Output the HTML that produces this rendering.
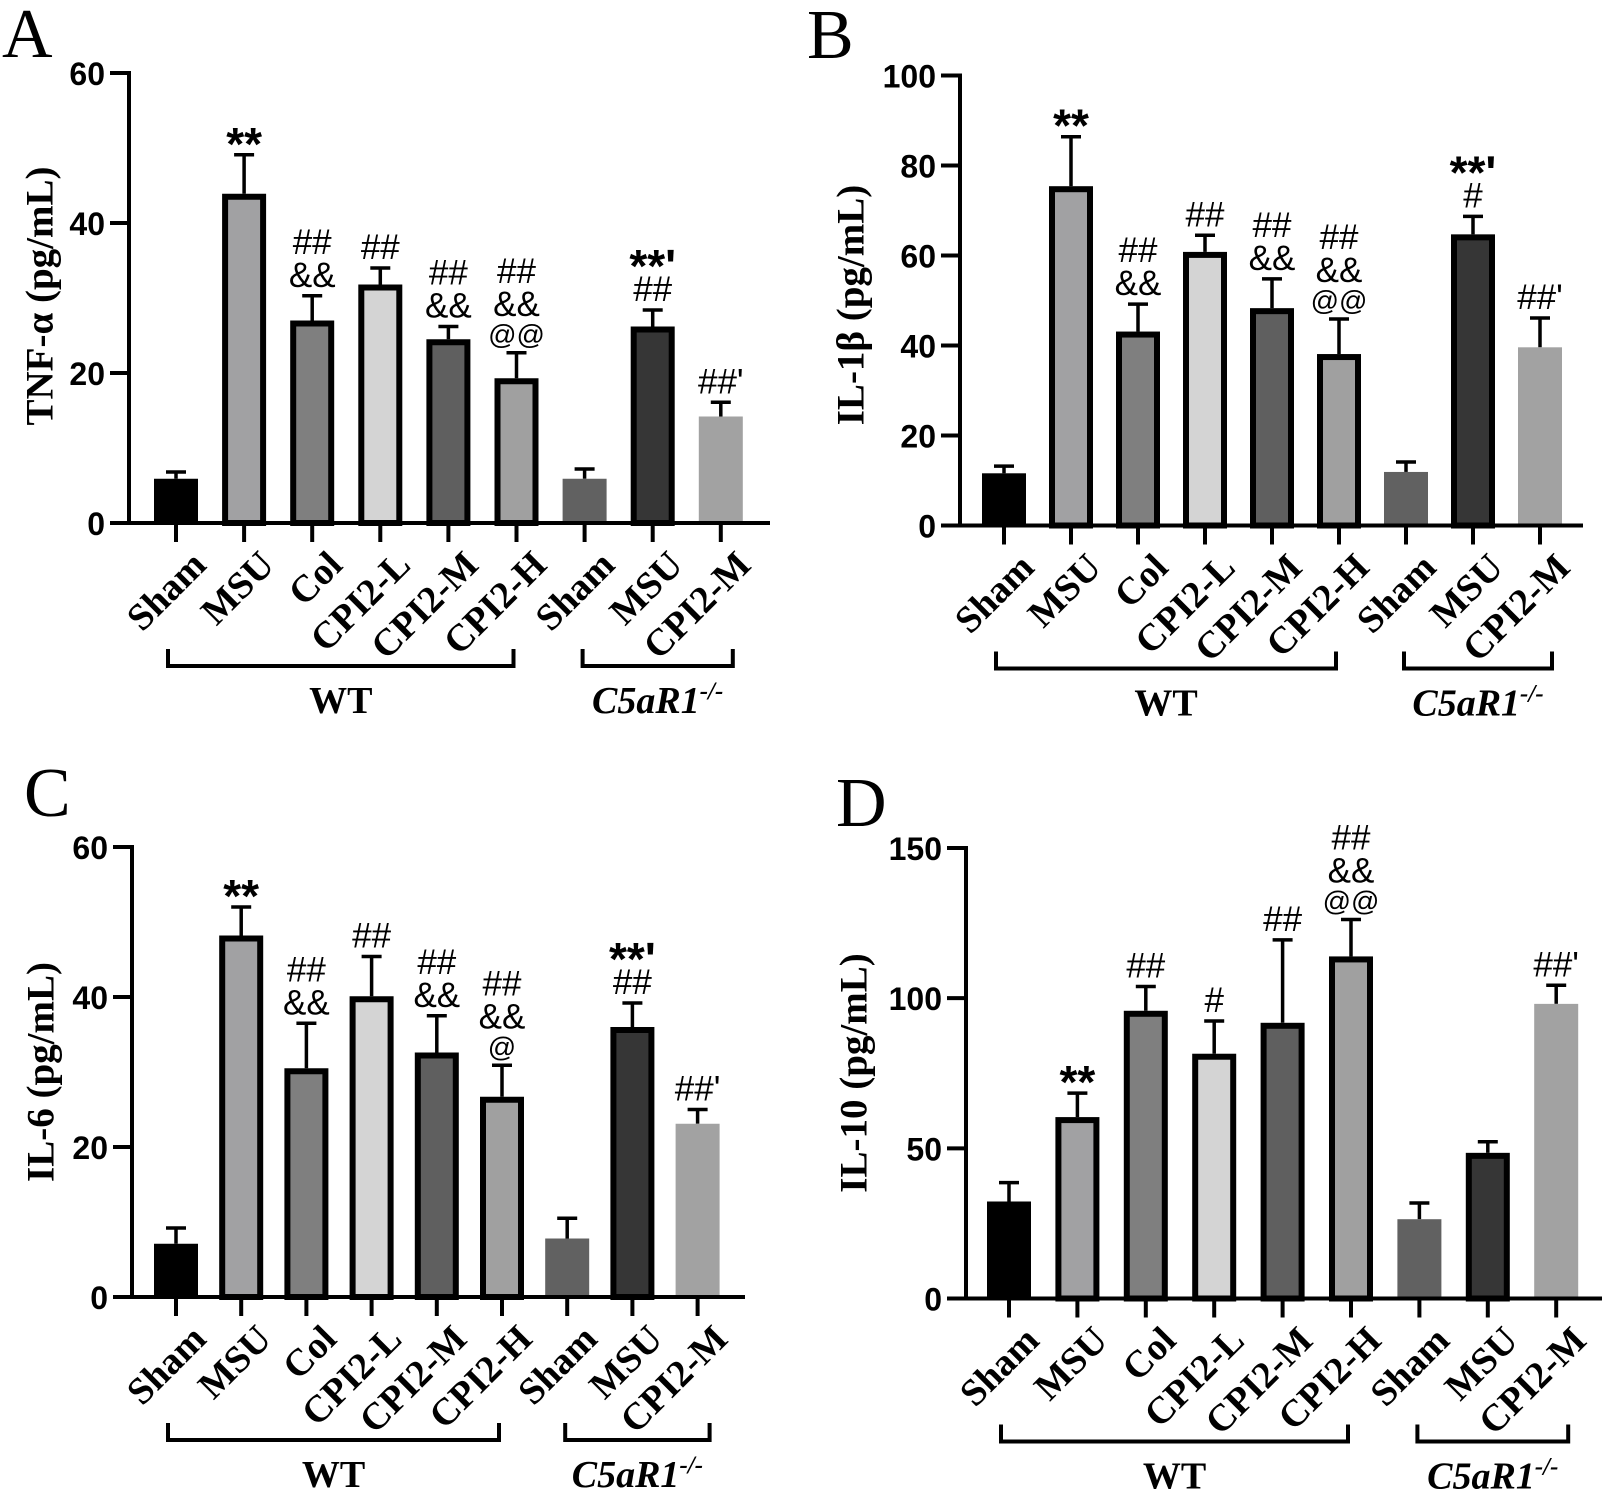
<!DOCTYPE html>
<html><head><meta charset="utf-8">
<style>
html,body{margin:0;padding:0;background:#fff;}
svg{display:block;}
.tick{font-family:"Liberation Sans",sans-serif;font-weight:bold;font-size:32px;}
.ser{font-family:"Liberation Serif",serif;font-weight:bold;}
.ann{font-family:"Liberation Sans",sans-serif;}
</style></head>
<body>
<svg id="fig" width="1606" height="1489" viewBox="0 0 1606 1489" xmlns="http://www.w3.org/2000/svg"></svg>
<script>
// ---- data ----
const categories = ["Sham","MSU","Col","CPI2-L","CPI2-M","CPI2-H","Sham","MSU","CPI2-M"];
const tnfValues  = [5.9, 43.9, 27.0, 31.8, 24.5, 19.3, 5.9, 26.2, 14.2];
const tnfErrors  = [0.9, 5.2, 3.3, 2.2, 1.7, 3.4, 1.3, 2.2, 1.9];
const tnfAnn     = ["", "**", "##|&&", "##", "##|&&", "##|&&|@@", "", "**'|##", "##'"];
const tnfTicks   = [0, 20, 40, 60];
const il1Values  = [11.6, 75.4, 43.1, 60.8, 48.3, 38.1, 11.9, 64.7, 39.6];
const il1Errors  = [1.6, 11.0, 6.1, 3.7, 6.5, 7.8, 2.2, 4.0, 6.5];
const il1Ann     = ["", "**", "##|&&", "##", "##|&&", "##|&&|@@", "", "**'|#", "##'"];
const il1Ticks   = [0, 20, 40, 60, 80, 100];
const il6Values  = [7.1, 48.2, 30.5, 40.1, 32.6, 26.7, 7.8, 36.0, 23.1];
const il6Errors  = [2.1, 3.8, 6.0, 5.3, 4.9, 4.2, 2.7, 3.2, 1.9];
const il6Ann     = ["", "**", "##|&&", "##", "##|&&", "##|&&|@", "", "**'|##", "##'"];
const il6Ticks   = [0, 20, 40, 60];
const il10Values = [32.3, 60.4, 95.8, 81.5, 91.8, 113.9, 26.4, 48.5, 98.1];
const il10Errors = [6.3, 8.0, 8.1, 10.9, 27.6, 12.3, 5.4, 3.7, 6.2];
const il10Ann    = ["", "**", "##", "#", "##", "##|&&|@@", "", "", "##'"];
const il10Ticks  = [0, 50, 100, 150];

// ---- style per bar ----
const fills   = ["#000000","#a1a1a3","#7f7f7f","#d4d4d4","#5f5f5f","#a0a0a0","#616161","#363636","#a2a2a2"];
const bordered= [false,true,true,true,true,true,false,true,false];

const NS="http://www.w3.org/2000/svg";
const svg=document.getElementById('fig');
function mk(tag,attrs,parent){const e=document.createElementNS(NS,tag);for(const k in attrs)e.setAttribute(k,attrs[k]);(parent||svg).appendChild(e);return e;}

const panels=[
 {id:"a",letter:"A",lx:2,ly:57,title:"TNF-α (pg/mL)",tx:40,ty:296,axX:129,axEnd:770,y0:523,yTop:73,max:60,x0:176,step:68.1,vals:tnfValues,errs:tnfErrors,ann:tnfAnn,ticks:tnfTicks},
 {id:"b",letter:"B",lx:807,ly:58,title:"IL-1β (pg/mL)",tx:851,ty:305,axX:960,axEnd:1583,y0:525.5,yTop:75.5,max:100,x0:1004,step:67,vals:il1Values,errs:il1Errors,ann:il1Ann,ticks:il1Ticks},
 {id:"c",letter:"C",lx:24,ly:816,title:"IL-6 (pg/mL)",tx:41,ty:1072,axX:132,axEnd:745,y0:1297,yTop:847,max:60,x0:176,step:65.2,vals:il6Values,errs:il6Errors,ann:il6Ann,ticks:il6Ticks},
 {id:"d",letter:"D",lx:836,ly:826,title:"IL-10 (pg/mL)",tx:854,ty:1073,axX:966,axEnd:1602,y0:1298.5,yTop:848,max:150,x0:1009,step:68.4,vals:il10Values,errs:il10Errors,ann:il10Ann,ticks:il10Ticks}
];

panels.forEach(p=>{
  const g=mk('g',{});
  
  
  const ys=v=>p.y0-(v/p.max)*(p.y0-p.yTop);
  const xs=i=>p.x0+i*p.step;

  const L=mk('text',{x:p.lx,y:p.ly,'font-family':'"Liberation Serif",serif','font-size':70},g);
  L.textContent=p.letter;
  
  

  const T=mk('text',{x:p.tx,y:p.ty,class:'ser','font-size':39,'text-anchor':'middle','dominant-baseline':'central',transform:`rotate(-90 ${p.tx} ${p.ty})`},g);
  T.textContent=p.title;
  
  

  p.vals.forEach((v,i)=>{
    const cx=xs(i), w=44, top=ys(v), bot=p.y0;
    const eTop=ys(v+p.errs[i]);
    const eb=mk('line',{x1:cx,x2:cx,y1:top,y2:eTop,stroke:'#000','stroke-width':3.5},g);
    
    
    const cap=mk('line',{x1:cx-10,x2:cx+10,y1:eTop,y2:eTop,stroke:'#000','stroke-width':3.5},g);
    
    
    let r;
    if(bordered[i]) r=mk('rect',{x:cx-w/2+3,y:top+3,width:w-6,height:bot-top-3,fill:fills[i],stroke:'#000','stroke-width':6},g);
    else r=mk('rect',{x:cx-w/2,y:top,width:w,height:bot-top,fill:fills[i]},g);
    
    
    const lines=p.ann[i]?p.ann[i].split('|'):[];
    let base=eTop-9;
    for(let k=lines.length-1;k>=0;k--){
      const s=lines[k];
      const star=s.indexOf('*')>=0;
      const at=s.indexOf('@')>=0;
      const t=mk('text',{x:cx,y:star?base+14:base,class:'ann','text-anchor':'middle','font-size':star?46:(at?28:35),'font-weight':star?'bold':'normal'},g);
      t.textContent=s;
      
      
      base-= at?28:33;
    }
    const tk=mk('line',{x1:cx,x2:cx,y1:p.y0,y2:p.y0+19,stroke:'#000','stroke-width':4},g);
    
    
    const ax=cx+32, ay=p.y0+44;
    const lb=mk('text',{x:ax,y:ay,class:'ser','font-size':38,'text-anchor':'end',transform:`rotate(-45 ${ax} ${ay})`},g);
    lb.textContent=categories[i];
    
    
  });

  const ya=mk('line',{x1:p.axX,x2:p.axX,y1:p.yTop-2,y2:p.y0+2,stroke:'#000','stroke-width':4},g);
  
  
  const xa=mk('line',{x1:p.axX-2,x2:p.axEnd,y1:p.y0,y2:p.y0,stroke:'#000','stroke-width':4},g);
  
  
  p.ticks.forEach(t=>{
    const y=ys(t);
    const tl=mk('line',{x1:p.axX-19,x2:p.axX,y1:y,y2:y,stroke:'#000','stroke-width':4},g);
    
    
    const tt=mk('text',{x:p.axX-24,y:y+12,class:'tick','text-anchor':'end','font-size':33},g);
    tt.textContent=t;
    
    
  });

  const bt=p.y0+126, bb=p.y0+143;
  const wx1=xs(0)-8, wx2=xs(5)-3, cx1=xs(6)-2, cx2=xs(8)+12;
  const wb=mk('path',{d:`M${wx1},${bt} V${bb} H${wx2} V${bt}`,fill:'none',stroke:'#000','stroke-width':4},g);
  
  
  const cb=mk('path',{d:`M${cx1},${bt} V${bb} H${cx2} V${bt}`,fill:'none',stroke:'#000','stroke-width':4},g);
  
  
  const wt=mk('text',{x:(wx1+wx2)/2,y:p.y0+190,class:'ser','font-size':38,'text-anchor':'middle'},g);
  wt.textContent='WT';
  
  
  const ct=mk('text',{x:(cx1+cx2)/2,y:p.y0+190,class:'ser','font-size':38,'font-style':'italic','text-anchor':'middle'},g);
  
  
  const s1=mk('tspan',{},ct); s1.textContent='C5aR1';
  const s2=mk('tspan',{dy:-14,'font-size':25},ct); s2.textContent='-/-';
});
</script>
</body></html>
